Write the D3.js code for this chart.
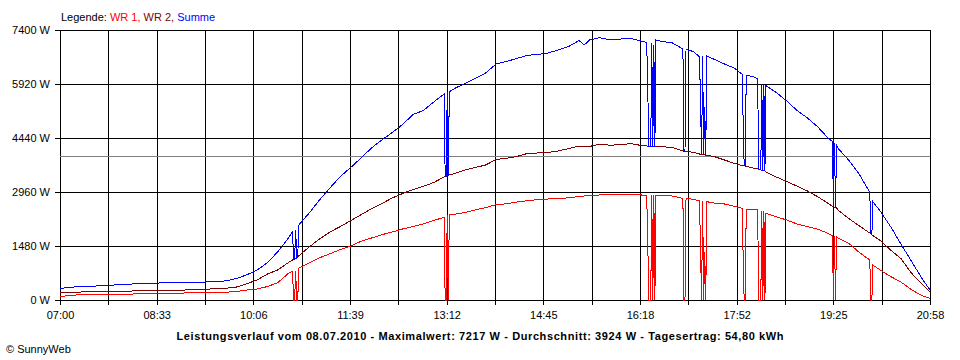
<!DOCTYPE html>
<html><head><meta charset="utf-8">
<script src="https://cdn.jsdelivr.net/npm/d3@7"></script>
<style>
html,body{margin:0;padding:0;background:#fff;}
svg{display:block;font-family:"Liberation Sans",Arial,sans-serif;}
</style></head><body>
<svg id="chart" width="960" height="360"></svg>
<script>
// ---- data ----
const times = ["07:00","07:10","07:20","07:30","07:40","07:50","08:00","08:10","08:20","08:30","08:40","08:50",
"09:00","09:10","09:20","09:30","09:40","09:50","10:00","10:10","10:20","10:30","10:40","10:44","10:45","10:46","10:47","10:48","10:49","10:50",
"11:00","11:10","11:20","11:30","11:40","11:50","12:00","12:10","12:20","12:30","12:40","12:50",
"13:00","13:10","13:11","13:12","13:13","13:14","13:15","13:20","13:30","13:40","13:50",
"14:00","14:10","14:20","14:30","14:40","14:50","15:00","15:10","15:20","15:25","15:30","15:40","15:50",
"16:00","16:10","16:20","16:25","16:26","16:27","16:28","16:29","16:30","16:31","16:32","16:33","16:34","16:40","16:50",
"17:00","17:01","17:02","17:03","17:10","17:16","17:17","17:18","17:19","17:20","17:21","17:22","17:23","17:30","17:40","17:50","17:57","17:58","17:59",
"18:00","18:01","18:10","18:12","18:13","18:14","18:15","18:16","18:17","18:18","18:19","18:20","18:30","18:40","18:50",
"19:00","19:10","19:20","19:24","19:25","19:26","19:27","19:28","19:30","19:40","19:50",
"20:00","20:01","20:02","20:03","20:10","20:20","20:30","20:40","20:50","20:58"];
const wr1 = [90,129,143,148,153,156,159,164,170,181,184,186,
192,197,206,211,214,230,274,301,370,480,732,781,0,0,803,0,0,869,
1014,1157,1266,1384,1480,1609,1699,1790,1864,1946,2014,2088,
2179,2267,0,0,2316,0,2330,2349,2398,2467,2535,
2609,2639,2686,2719,2754,2768,2782,2801,2837,2850,2870,2878,2878,
2883,2897,2878,2864,1982,0,0,0,2870,0,2868,0,2865,2859,2850,
2782,0,0,2779,2763,2713,1324,0,2705,0,1324,0,2694,2658,2631,2563,2513,1233,0,
0,2494,2486,2486,0,0,0,2439,0,2430,0,2376,2280,2193,2083,
2014,1940,1823,1768,0,1755,0,1727,1686,1548,1302,
1096,0,0,959,822,644,493,288,123,47];
const wr2 = [200,211,219,225,227,236,241,247,252,260,266,269,
274,280,293,310,323,356,444,554,713,828,1028,1096,1110,1124,1137,1151,1178,1211,
1453,1672,1864,2014,2173,2338,2502,2645,2796,2919,3028,3116,
3220,3371,3379,3387,3398,3412,3426,3467,3563,3631,3700,
3851,3884,3933,4015,4029,4043,4084,4152,4221,4193,4207,4275,4240,
4262,4284,4234,4221,4215,4212,4209,4207,4207,4205,4204,4203,4202,4201,4180,
4084,4078,4073,4070,4048,4001,3996,3990,3985,3980,3975,3970,3966,3933,3837,3741,3686,3681,3675,
3670,3664,3604,3590,3582,3576,3570,3549,3545,3540,3535,3508,3371,3248,3119,
2987,2828,2645,2563,2557,2541,2530,2521,2453,2228,2028,
1836,1809,1790,1768,1631,1370,1137,740,452,227];
const summe = [315,348,370,378,389,406,430,439,449,460,471,480,
482,485,493,499,526,589,691,822,1028,1329,1699,1872,1110,1124,1918,1151,1178,2056,
2384,2741,3070,3385,3631,3892,4166,4385,4591,4810,5084,5194,
5427,5646,3379,3387,5701,3412,5709,5797,5934,6076,6221,
6468,6537,6619,6706,6728,6770,6852,6948,7112,6989,7126,7190,7126,
7153,7167,7098,7063,6167,4212,4209,4207,7040,4205,7000,4203,7126,7085,7044,
6879,4078,4073,6866,6811,6668,5340,3990,6690,3980,5300,3970,6687,6597,6468,6350,6186,4933,3675,
3670,6167,6098,6057,3582,3576,3570,5912,3545,5900,3535,5873,5687,5454,5194,
4988,4741,4432,4344,2557,4300,2530,4234,4138,3823,3440,
2950,1809,1790,2694,2439,2014,1535,1069,603,274];
const average = 3924;
const yTicks = [0,1480,2960,4440,5920,7400];
const xTickLabels = ["07:00","08:33","10:06","11:39","13:12","14:45","16:18","17:52","19:25","20:58"];
const legendTitle = "Legende:";
const seriesNames = ["WR 1","WR 2","Summe"];
const titleText = "Leistungsverlauf vom 08.07.2010 - Maximalwert: 7217 W - Durchschnitt: 3924 W - Tagesertrag: 54,80 kWh";
const creditText = "\u00A9 SunnyWeb";

// ---- drawing ----
(function draw(){
const colors = ["#ff0000","#800000","#0000ff"];
const svg = d3.select("#chart");
const parse = d3.timeParse("%H:%M");
const t0 = parse(xTickLabels[0]), t1 = parse(xTickLabels[xTickLabels.length-1]);
const pLeft = 60, pRight = 930, pTop = 30, pBottom = 300;
const x = d3.scaleTime().domain([t0,t1]).range([pLeft,pRight]);
const y = d3.scaleLinear().domain([0,7400]).range([pBottom,pTop]);

const nInt = (xTickLabels.length-1)*2;
const gridTicks = d3.range(nInt+1).map(i => new Date(+t0 + i*(t1-t0)/nInt));

const xAxis = d3.axisBottom(x).tickValues(gridTicks).tickSize(-(pBottom+5-pTop)).tickPadding(6)
  .tickFormat((d,i) => i%2===0 ? xTickLabels[i/2] : "");
const gx = svg.append("g").attr("transform",`translate(0,${pBottom+5})`).call(xAxis);
const yAxis = d3.axisLeft(y).tickValues(yTicks).tickSize(-(pRight-pLeft+5)).tickPadding(5)
  .tickFormat(d => d + " W");
const gy = svg.append("g").attr("transform",`translate(${pLeft-5},0)`).call(yAxis);
[gx,gy].forEach(g => {
  g.select(".domain").remove();
  g.selectAll(".tick line").attr("stroke","#000").attr("shape-rendering","crispEdges");
  g.selectAll(".tick text").attr("fill","#000").style("font-size","11px")
   .style("font-family","'Liberation Sans',Arial,sans-serif");
});

svg.append("line").attr("x1",pLeft).attr("x2",pRight).attr("y1",y(average)).attr("y2",y(average))
  .attr("stroke","#808080").attr("shape-rendering","crispEdges");

const pts = times.map((t,i) => ({t: parse(t), v: [wr1[i], wr2[i], summe[i]]}));
const line = k => d3.line().x(d => x(d.t)).y(d => y(d.v[k]))(pts);
[0,1,2].forEach(k => {
  svg.append("path").attr("d", line(k)).attr("fill","none").attr("stroke",colors[k])
    .attr("stroke-width",1).attr("shape-rendering","crispEdges");
});

const lg = svg.append("text").attr("x",61).attr("y",21).style("font-size","11px");
lg.append("tspan").attr("fill","#000").text(legendTitle + " ");
seriesNames.forEach((n,i) => {
  lg.append("tspan").attr("fill",colors[i]).text(n + (i < seriesNames.length-1 ? ", " : ""));
});

svg.append("text").attr("x",480).attr("y",340).attr("text-anchor","middle")
  .style("font-size","11px").style("font-weight","bold").attr("fill","#000")
  .attr("textLength",607).attr("lengthAdjust","spacing").text(titleText);
svg.append("text").attr("x",6).attr("y",353).style("font-size","11px").attr("fill","#000").text(creditText);
})();
</script>
</body></html>
